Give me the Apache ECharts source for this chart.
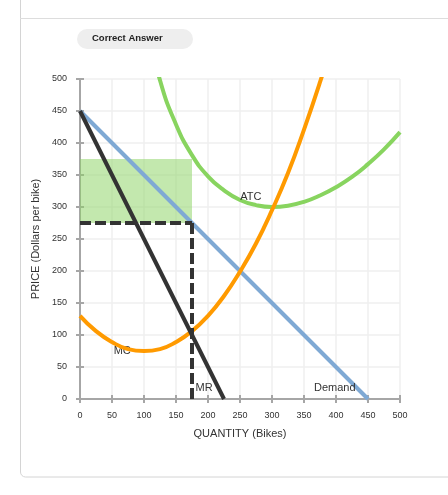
<!DOCTYPE html>
<html>
<head>
<meta charset="utf-8">
<script src="https://cdn.jsdelivr.net/npm/echarts@6/dist/echarts.min.js"></script>
<style>
  html, body { margin: 0; padding: 0; background: #fff; }
  #chart { width: 448px; height: 495px; }
</style>
</head>
<body>
<div id="chart"></div>
<script>
// values
const ticks = [0, 50, 100, 150, 200, 250, 300, 350, 400, 450, 500];

const demandQ = [0, 450];
const demandP = [450, 0];

const mrQ = [0, 225];
const mrP = [450, 0];

const mcQ = [0, 25, 50, 75, 100, 125, 150, 175, 200, 225, 250, 275, 300, 325, 350, 375, 400];
const mcP = [130, 106, 89, 78, 75, 78, 89, 106, 130, 161, 199, 243, 295, 353, 421, 495, 575];

const atcQ = [100, 125, 150, 175, 200, 225, 250, 275, 300, 325, 350, 375, 400, 425, 450, 475, 500];
const atcP = [603, 498, 429, 381, 348, 326, 311, 303, 300, 302, 308, 318, 331, 347, 367, 390, 417];

// profit box and profit-max point
const boxQ = [0, 175];
const boxP = [275, 375];
const qStar = 175;
const pStar = 275;

// curve label anchors (data coords)
const labels = [
  { name: "ATC", coord: [267, 316] },
  { name: "MC", coord: [66, 75] },
  { name: "MR", coord: [194, 17] },
  { name: "Demand", coord: [398, 17] }
];

const font = "Arial, 'Liberation Sans', sans-serif";
const pair = (xs, ys) => xs.map((x, i) => [x, ys[i]]);

const chart = echarts.init(document.getElementById("chart"));

const baseAxis = {
  type: "value",
  min: ticks[0],
  max: ticks[ticks.length - 1],
  interval: 50,
  axisLine: { show: true, lineStyle: { color: "#a6a6a6", width: 2 } },
  axisTick: { show: true, length: 4, lineStyle: { color: "#a6a6a6", width: 2 } },
  axisLabel: { color: "#333", fontSize: 9, fontFamily: font },
  splitLine: { show: true, lineStyle: { color: "#efefef", width: 1.5 } }
};

// second copy of each axis just for the inner half of the ticks
const innerAxis = {
  type: "value",
  min: ticks[0],
  max: ticks[ticks.length - 1],
  interval: 50,
  axisLine: { show: false },
  axisTick: { show: true, inside: true, length: 4, lineStyle: { color: "#a6a6a6", width: 2 } },
  axisLabel: { show: false },
  splitLine: { show: false }
};

chart.setOption({
  animation: false,
  grid: { left: 80, right: 48, top: 79, bottom: 96 },
  xAxis: [
    Object.assign({}, baseAxis, {
      name: "QUANTITY (Bikes)",
      nameLocation: "middle",
      nameGap: 29,
      nameTextStyle: { color: "#333", fontSize: 11, fontFamily: font },
      axisLabel: { color: "#333", fontSize: 9, fontFamily: font, margin: 12 }
    }),
    Object.assign({}, innerAxis, { position: "bottom" })
  ],
  yAxis: [
    Object.assign({}, baseAxis, {
      name: "PRICE (Dollars per bike)",
      nameLocation: "middle",
      nameGap: 39,
      nameTextStyle: { color: "#333", fontSize: 11, fontFamily: font },
      axisLabel: { color: "#333", fontSize: 9, fontFamily: font, margin: 13 }
    }),
    Object.assign({}, innerAxis, { position: "left" })
  ],
  graphic: [
    {
      type: "rect",
      shape: { x: 20.5, y: -20, width: 470, height: 497, r: 5 },
      style: { fill: "none", stroke: "#d4d4d4", lineWidth: 1 },
      z: -10
    },
    {
      type: "line",
      shape: { x1: 20, y1: 18.5, x2: 448, y2: 18.5 },
      style: { stroke: "#dddddd", lineWidth: 1 },
      z: -10
    },
    {
      type: "rect",
      shape: { x: 77, y: 29, width: 116, height: 20, r: 10 },
      style: { fill: "#eeeeee" }
    },
    {
      type: "text",
      left: 92,
      top: 33,
      style: { text: "Correct Answer", fill: "#222", font: "bold 9.5px " + font }
    }
  ],
  series: [
    {
      name: "Demand",
      type: "line",
      data: pair(demandQ, demandP),
      symbol: "none",
      lineStyle: { color: "#7fa9d4", width: 4 },
      z: 3,
      markArea: {
        silent: true,
        itemStyle: { color: "rgba(140, 210, 100, 0.52)" },
        data: [[{ coord: [boxQ[0], boxP[1]] }, { coord: [boxQ[1], boxP[0]] }]]
      }
    },
    {
      name: "ATC",
      type: "line",
      data: pair(atcQ, atcP),
      smooth: true,
      symbol: "none",
      lineStyle: { color: "#88d45f", width: 4 },
      z: 4
    },
    {
      name: "MC",
      type: "line",
      data: pair(mcQ, mcP),
      smooth: true,
      symbol: "none",
      lineStyle: { color: "#ff9a00", width: 4 },
      z: 5
    },
    {
      name: "MR",
      type: "line",
      data: pair(mrQ, mrP),
      symbol: "none",
      lineStyle: { color: "#333333", width: 4 },
      z: 6
    },
    {
      name: "dashH",
      type: "line",
      data: [[0, pStar], [qStar, pStar]],
      symbol: "none",
      lineStyle: { color: "#333333", width: 4, type: [11, 4] },
      z: 7
    },
    {
      name: "dashV",
      type: "line",
      data: [[qStar, pStar], [qStar, 0]],
      symbol: "none",
      lineStyle: { color: "#333333", width: 4, type: [11, 4] },
      z: 7
    },
    {
      name: "labels",
      type: "scatter",
      data: [],
      z: 8,
      markPoint: {
        symbol: "circle",
        symbolSize: 0,
        silent: true,
        label: {
          show: true,
          position: "inside",
          formatter: "{b}",
          color: "#333",
          fontSize: 11,
          fontFamily: font
        },
        data: labels
      }
    }
  ]
});
</script>
</body>
</html>
